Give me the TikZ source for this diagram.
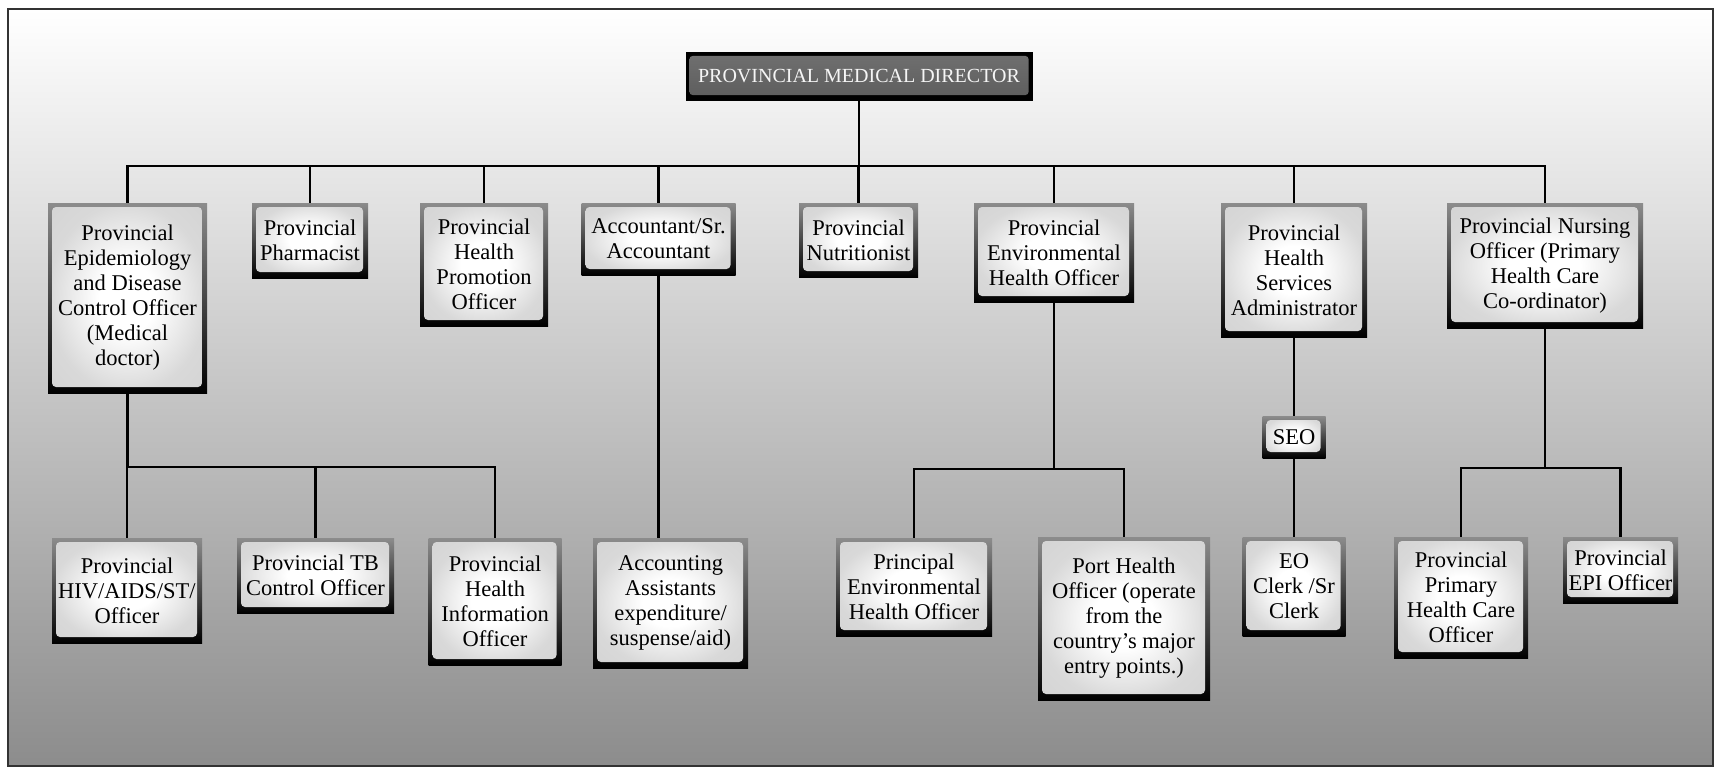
\documentclass[tikz,border=0pt]{standalone}
\usepackage{fontspec}
\setmainfont{Liberation Serif}
\usetikzlibrary{calc}
% soft white glow for the inner panel of each post
\pgfdeclareradialshading{postglow}{\pgfpoint{0bp}{0bp}}{%
  color(0bp)=(white); color(9bp)=(white); color(25bp)=(black!15); color(50bp)=(black!20)}
\begin{document}
\begin{tikzpicture}[x=1pt,y=-1pt,
  post/.style={rectangle, inner sep=0pt, align=center,
    font=\fontsize{22.5}{25}\selectfont, text=black,
    top color=black!45, middle color=black!88, bottom color=black,
    path picture={
      \shade[rounded corners=4pt, shading=postglow]
        ([shift={(4pt,-4pt)}]path picture bounding box.north west) rectangle
        ([shift={(-5pt,6pt)}]path picture bounding box.south east);
    }},
  headbox/.style={rectangle, inner sep=0pt, align=center,
    font=\fontsize{20}{22}\selectfont, text=black!4, fill=black,
    path picture={
      \fill[rounded corners=3pt, top color=black!56, bottom color=black!64]
        ([shift={(4pt,-4pt)}]path picture bounding box.north west) rectangle
        ([shift={(-4pt,6pt)}]path picture bounding box.south east);
    }},
  link/.style={line width=2.8pt, black}]

% page and backdrop
\useasboundingbox (0,0) rectangle (1714,768);
\shade[top color=white, middle color=black!22, bottom color=black!45] (8,9) rectangle (1713,766);
\draw[line width=1.3pt, black!80] (8,9) rectangle (1713,766);

% head of the chart
\node[headbox, minimum width=347pt, minimum height=49pt] (dir) at (859,76.5) {PROVINCIAL MEDICAL DIRECTOR};

% first level
\node[post, minimum width=159pt, minimum height=190pt] (epi) at (127.5,298)
  {Provincial\\Epidemiology\\and Disease\\Control Officer\\(Medical\\doctor)};
\node[post, minimum width=116pt, minimum height=75pt] (pharm) at (310,240.5)
  {Provincial\\Pharmacist};
\node[post, minimum width=128pt, minimum height=123pt] (hpro) at (484,264.5)
  {Provincial\\Health\\Promotion\\Officer};
\node[post, minimum width=154pt, minimum height=72pt] (acct) at (658.5,239)
  {Accountant/Sr.\\Accountant};
\node[post, minimum width=119pt, minimum height=74pt] (nutr) at (858.5,240)
  {Provincial\\Nutritionist};
\node[post, minimum width=160pt, minimum height=99pt] (env) at (1054,252.5)
  {Provincial\\Environmental\\Health Officer};
\node[post, minimum width=146pt, minimum height=134pt] (adm) at (1294,270)
  {Provincial\\Health\\Services\\Administrator};
\node[post, minimum width=196pt, minimum height=125pt] (nurse) at (1545,265.5)
  {Provincial Nursing\\Officer (Primary\\Health Care\\Co-ordinator)};

% second level
\node[post, minimum width=150pt, minimum height=105pt] (hiv) at (127,590.5)
  {Provincial\\HIV/AIDS/ST/\\Officer};
\node[post, minimum width=157pt, minimum height=75pt] (tb) at (315.5,575.5)
  {Provincial TB\\Control Officer};
\node[post, minimum width=133pt, minimum height=127pt] (hinfo) at (495,601.5)
  {Provincial\\Health\\Information\\Officer};
\node[post, minimum width=155pt, minimum height=130pt] (accas) at (670.5,603)
  {Accounting\\Assistants\\expenditure/\\suspense/aid)};
\node[post, minimum width=156pt, minimum height=98pt] (penv) at (914,587)
  {Principal\\Environmental\\Health Officer};
\node[post, minimum width=172pt, minimum height=163pt] (port) at (1124,618.5)
  {Port Health\\Officer (operate\\from the\\country’s major\\entry points.)};
\node[post, minimum width=63pt, minimum height=42pt] (seo) at (1294,437)
  {SEO};
\node[post, minimum width=103pt, minimum height=99pt] (eo) at (1294,586.5)
  {EO\\Clerk /Sr\\Clerk};
\node[post, minimum width=134pt, minimum height=121pt] (phc) at (1461,597.5)
  {Provincial\\Primary\\Health Care\\Officer};
\node[post, minimum width=115pt, minimum height=66pt] (epio) at (1620.5,570)
  {Provincial\\EPI Officer};

% bus heights
\coordinate (busA) at (0,166);
\coordinate (busB) at (0,467);
\coordinate (busC) at (0,469);
\coordinate (busD) at (0,468);

% connectors
\foreach \n in {epi,pharm,hpro,acct,nutr,env,adm,nurse}
  \draw[link] (dir.south) -- (dir.south |- busA) -| (\n.north);
\foreach \n in {hiv,tb,hinfo}
  \draw[link] (epi.south) -- (epi.south |- busB) -| (\n.north);
\foreach \n in {penv,port}
  \draw[link] (env.south) -- (env.south |- busC) -| (\n.north);
\foreach \n in {phc,epio}
  \draw[link] (nurse.south) -- (nurse.south |- busD) -| (\n.north);
\draw[link] (acct.south) -- (acct.south |- accas.north);
\draw[link] (adm.south) -- (seo.north);
\draw[link] (seo.south) -- (eo.north);
\end{tikzpicture}
\end{document}
